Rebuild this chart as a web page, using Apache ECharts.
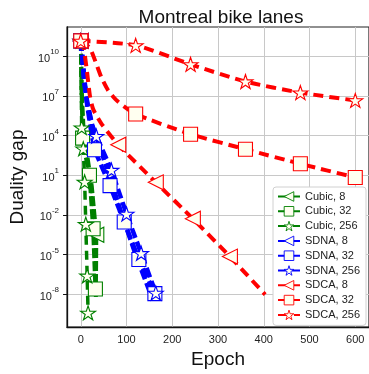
<!DOCTYPE html>
<html><head><meta charset="utf-8">
<script src="https://cdn.jsdelivr.net/npm/echarts@6/dist/echarts.min.js"></script>
<style>html,body{margin:0;padding:0;background:#fff}#c{width:369px;height:374px}</style>
</head><body><div id="c"></div>
<script>
// Data (gap values stored as log10 of duality gap)
const seriesNames = ['Cubic, 8','Cubic, 32','Cubic, 256','SDNA, 8','SDNA, 32','SDNA, 256','SDCA, 8','SDCA, 32','SDCA, 256'];

const cubic8Epoch  = [0, 2, 6, 15, 24, 34, 33];
const cubic8LogGap = [11.15, 7.5, 4.5, 2.3, 0.2, -3.5, -8.2];
const cubic8Marked = [0, 5];

const cubic32Epoch  = [0, 2, 4, 12, 19, 27, 32];
const cubic32LogGap = [11.15, 7.2, 3.8, 2.2, 1.0, -3.05, -7.6];
const cubic32Marked = [0, 2, 4, 5, 6];

const cubic256Epoch  = [0, 1, 2, 5.5, 8.5, 11, 14, 16];
const cubic256LogGap = [11.15, 8, 4.6, 3.0, 0.5, -2.7, -6.6, -9.4];
const cubic256Marked = [0, 2, 3, 4, 5, 6, 7];

const sdna8Epoch  = [0, 3, 8, 14, 25, 40, 60, 90, 120, 155];
const sdna8LogGap = [11.15, 10, 8, 6.5, 4.8, 3.3, 1.2, -2.0, -5.0, -8.2];
const sdna8Marked = [0];

const sdna32Epoch  = [0, 3, 8, 14, 22, 30, 64, 95, 127, 162];
const sdna32LogGap = [11.15, 10, 8, 6.3, 4.5, 2.92, 0.21, -2.54, -5.37, -7.95];
const sdna32Marked = [0, 5, 6, 7, 8, 9];

const sdna256Epoch  = [0, 3, 8, 14, 24, 34, 67, 100, 132, 164];
const sdna256LogGap = [11.15, 10.2, 8.2, 6.5, 4.8, 3.95, 1.39, -1.93, -4.9, -7.9];
const sdna256Marked = [0, 5, 6, 7, 8, 9];

const sdca8Epoch  = [0, 6, 13, 20, 27, 45, 82, 164, 245, 326, 403];
const sdca8LogGap = [11.15, 10.7, 9.0, 7.0, 6.0, 4.9, 3.3, 0.46, -2.29, -5.15, -8.02];
const sdca8Marked = [0, 6, 7, 8, 9];

const sdca32Epoch  = [0, 20, 32, 45, 60, 80, 120, 240, 360, 480, 600];
const sdca32LogGap = [11.15, 10.6, 9.6, 8.4, 7.4, 6.6, 5.62, 4.1, 2.96, 1.86, 0.83];
const sdca32Marked = [0, 6, 7, 8, 9, 10];

const sdca256Epoch  = [0, 120, 240, 360, 480, 600];
const sdca256LogGap = [11.15, 10.81, 9.38, 8.08, 7.24, 6.65];
const sdca256Marked = [0, 1, 2, 3, 4, 5];

const xTicks = [0, 100, 200, 300, 400, 500, 600];
const yTickExps = [-8, -5, -2, 1, 4, 7, 10];

const FONT = "'Liberation Sans', Arial, Helvetica, sans-serif";
const GREEN = '#008000', BLUE = '#0000ff', RED = '#ff0000';
const STAR = 'path://M100,0 L122.45,69.1 L195.11,69.1 L136.33,111.8 L158.78,180.9 L100,138.2 L41.22,180.9 L63.67,111.8 L4.89,69.1 L77.55,69.1 Z';

function mk(name, color, kind, epochs, logGap, marked, width, dash, smooth) {
  const sym = kind === 'tri' ? 'triangle' : (kind === 'sq' ? 'rect' : STAR);
  const size = kind === 'tri' ? 15 : (kind === 'sq' ? 14 : [15, 14]);
  return {
    name, type: 'line', symbol: sym, symbolSize: size,
    symbolRotate: kind === 'tri' ? 90 : 0,
    showAllSymbol: true, smooth: smooth || false,
    data: epochs.map((e, i) => marked.includes(i)
      ? { value: [e, logGap[i]] }
      : { value: [e, logGap[i]], symbol: 'none' }),
    lineStyle: { color, width, type: dash },
    itemStyle: { color: '#fffff0', borderColor: color, borderWidth: 1.1 },
    emphasis: { disabled: true },
    animation: false
  };
}

const series = [
  mk(seriesNames[0], GREEN, 'tri', cubic8Epoch, cubic8LogGap, cubic8Marked, 4, [10, 3]),
  mk(seriesNames[1], GREEN, 'sq', cubic32Epoch, cubic32LogGap, cubic32Marked, 4, [10, 3]),
  mk(seriesNames[2], GREEN, 'star', cubic256Epoch, cubic256LogGap, cubic256Marked, 3.5, [9, 6]),
  mk(seriesNames[3], BLUE, 'tri', sdna8Epoch, sdna8LogGap, sdna8Marked, 4.5, [10, 4]),
  mk(seriesNames[4], BLUE, 'sq', sdna32Epoch, sdna32LogGap, sdna32Marked, 4.5, [10, 4]),
  mk(seriesNames[5], BLUE, 'star', sdna256Epoch, sdna256LogGap, sdna256Marked, 4.5, [10, 4]),
  mk(seriesNames[6], RED, 'tri', sdca8Epoch, sdca8LogGap, sdca8Marked, 4, [10, 6], 0.2),
  mk(seriesNames[7], RED, 'sq', sdca32Epoch, sdca32LogGap, sdca32Marked, 4, [10, 6], 0.2),
  mk(seriesNames[8], RED, 'star', sdca256Epoch, sdca256LogGap, sdca256Marked, 4, [10, 6], 0.25)
];

const chart = echarts.init(document.getElementById('c'), null, { renderer: 'canvas' });
chart.setOption({
  animation: false,
  textStyle: { fontFamily: FONT },
  title: {
    text: 'Montreal bike lanes', left: 216, top: 3, textAlign: 'center',
    textStyle: { fontFamily: FONT, fontSize: 19, fontWeight: 'normal', color: '#111' }
  },
  grid: { left: 60, top: 27, width: 312, height: 307, show: true, borderColor: '#222', borderWidth: 1.2, containLabel: false },
  xAxis: {
    type: 'value', min: -30, max: 630,
    name: 'Epoch', nameLocation: 'middle', nameGap: 20,
    nameTextStyle: { fontFamily: FONT, fontSize: 19, color: '#111' },
    axisLine: { show: true, onZero: false, lineStyle: { color: '#111', width: 1.3 } },
    axisTick: { show: false, customValues: xTicks },
    axisLabel: { customValues: xTicks, fontFamily: FONT, fontSize: 11, color: '#222', margin: 7 },
    splitLine: { show: true, lineStyle: { color: '#c8c8c8', width: 1 } }
  },
  yAxis: {
    type: 'value', min: -10.48, max: 12.2,
    name: 'Duality gap', nameLocation: 'middle', nameGap: 36,
    nameTextStyle: { fontFamily: FONT, fontSize: 19, color: '#111' },
    axisLine: { show: true, onZero: false, lineStyle: { color: '#111', width: 1.3 } },
    axisTick: { show: true, length: 4, customValues: yTickExps, lineStyle: { color: '#111' } },
    axisLabel: {
      customValues: yTickExps, margin: 8,
      formatter: v => '{b|10}{s|' + v + '}',
      rich: {
        b: { fontFamily: FONT, fontSize: 11, color: '#222', verticalAlign: 'bottom', lineHeight: 16 },
        s: { fontFamily: FONT, fontSize: 8, color: '#222', verticalAlign: 'top', lineHeight: 10 }
      }
    },
    splitLine: { show: true, lineStyle: { color: '#c8c8c8', width: 1 } }
  },
  legend: {
    data: seriesNames, orient: 'vertical', left: 273, top: 187,
    itemWidth: 22, itemHeight: 12, itemGap: 3.8,
    padding: [4, 6, 5, 4],
    itemStyle: { borderWidth: 0.9 },
    backgroundColor: '#ffffff', borderColor: '#d0d0d0', borderWidth: 1, borderRadius: 3,
    textStyle: { fontFamily: FONT, fontSize: 11, color: '#222' }
  },
  series
});
</script></body></html>
